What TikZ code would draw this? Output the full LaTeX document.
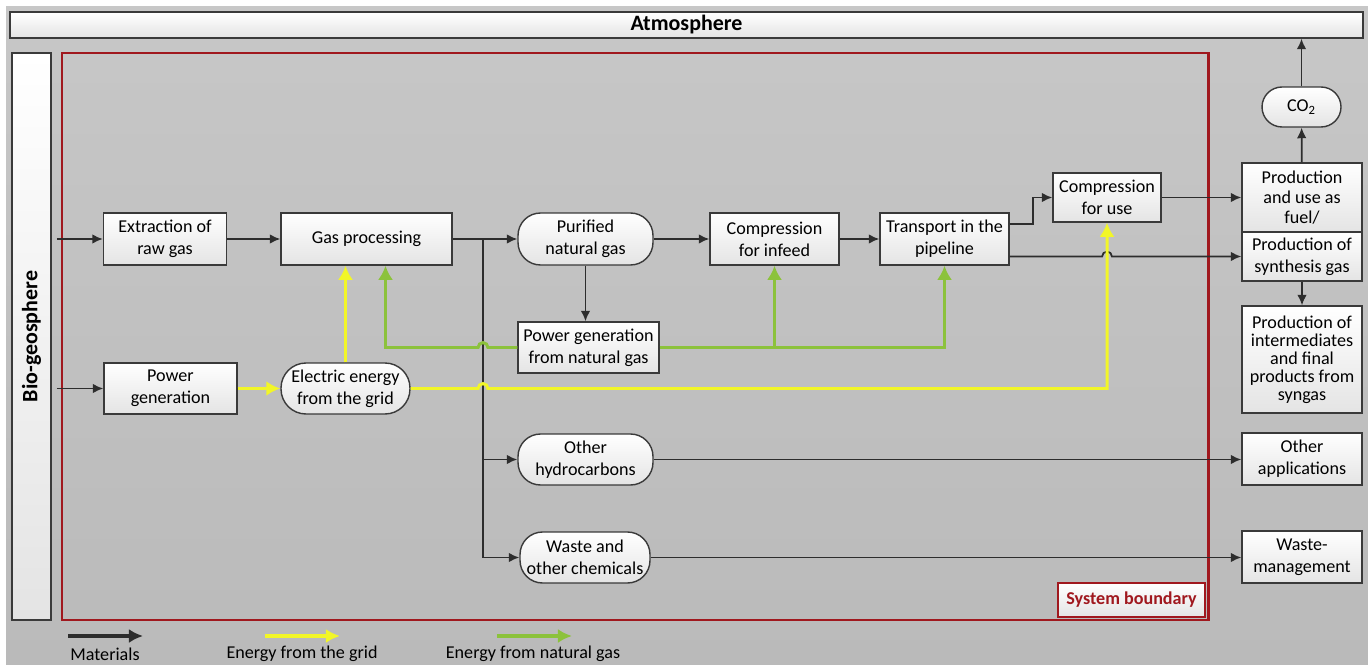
\documentclass[tikz,border=0pt]{standalone}
\usepackage{fontspec}
\setmainfont{Carlito}
\usetikzlibrary{positioning, arrows.meta, calc}

\definecolor{bgtop}{RGB}{199,199,199}
\definecolor{bgbot}{RGB}{186,186,186}
\definecolor{boxline}{RGB}{58,58,58}
\definecolor{boxshade}{RGB}{228,228,228}
\definecolor{matline}{RGB}{45,45,45}
\definecolor{gridyellow}{RGB}{242,246,40}
\definecolor{gasgreen}{RGB}{140,194,60}
\definecolor{boundred}{RGB}{160,24,30}

\begin{document}
\begin{tikzpicture}[
 x=0.02cm, y=0.02cm,
 font=\fontsize{10.3}{12.4}\selectfont,
 box/.style={draw=boxline, line width=0.8pt, rectangle, top color=white, bottom color=boxshade, align=center, inner sep=1pt, minimum height=1.04cm},
 stock/.style={box, rounded corners=0.45cm},
 arrow/.style={-{Latex[length=6pt,width=5.5pt]}, line width=1pt, draw=matline},
 gridarrow/.style={-{Latex[length=8pt,width=8.5pt]}, line width=1.7pt, draw=gridyellow},
 gasarrow/.style={-{Latex[length=8pt,width=8.5pt]}, line width=1.7pt, draw=gasgreen},
 legendarrow/.style={-{Latex[length=8pt,width=8pt]}, line width=2.3pt},
 hop/.style={radius=2.8pt}
 ]

  \useasboundingbox (0,0) rectangle (1368,-665);
  \fill[top color=bgtop, bottom color=bgbot] (6,-7) rectangle (1368,-665);

  % Atmosphere and bio-geosphere
  \node[box, minimum width=27.06cm, minimum height=0.52cm, font=\bfseries\fontsize{12.5}{15}\selectfont] (atmo) at (686.5,-25) {Atmosphere};
  \node[box, rotate=90, minimum width=11.34cm, minimum height=0.78cm, font=\bfseries\fontsize{12.5}{15}\selectfont] (bio) at (31.5,-336.5) {Bio-geosphere};

  % System boundary
  \draw[boundred, line width=1.7pt] (62,-53) rectangle (1208,-620);
  \node[box, draw=boundred, text=boundred, minimum width=2.94cm, minimum height=0.68cm, font=\bfseries\fontsize{10.3}{12.4}\selectfont] (sblabel) at (1131.5,-600) {System boundary};

  % Main chain
  \node[box, minimum width=2.46cm] (extract) at (165,-239) {Extraction of\\raw gas};
  \node[box, minimum width=3.42cm] (gasproc) at (366.5,-239) {Gas processing};
  \node[stock, minimum width=2.7cm] (purified) at (585.5,-239) {Purified\\natural gas};
  \node[box, minimum width=2.58cm] (compin) at (774.5,-239) {Compression\\for infeed};
  \node[box, minimum width=2.58cm] (transport) at (944.5,-239) {Transport in the\\pipeline};
  \node[box, minimum width=2.16cm, minimum height=0.98cm] (compuse) at (1107,-197.5) {Compression\\for use};

  % Energy supply
  \node[box, minimum width=2.82cm, minimum height=1.02cm] (pgnat) at (588.5,-347.5) {Power generation\\from natural gas};
  \node[box, minimum width=2.66cm, minimum height=1.02cm] (powergen) at (170.5,-388.5) {Power\\generation};
  \node[stock, minimum width=2.58cm, minimum height=1.02cm, rounded corners=0.5cm] (elgrid) at (345.5,-388.5) {Electric energy\\from the grid};

  % By-products
  \node[stock, minimum width=2.7cm, minimum height=1.02cm] (otherhc) at (585.5,-459.5) {Other\\hydrocarbons};
  \node[stock, minimum width=2.6cm, minimum height=1.02cm] (waste) at (585,-557.5) {Waste and\\other chemicals};

  % Outside the boundary
  \node[stock, minimum width=1.58cm, minimum height=0.8cm, rounded corners=0.4cm] (co2) at (1301.5,-107) {CO\textsubscript{2}};
  \node[box, minimum width=2.4cm, minimum height=1.38cm, font=\fontsize{10.3}{11.2}\selectfont] (fuel) at (1302,-197.5) {Production\\and use as\\fuel/};
  \node[box, minimum width=2.4cm, minimum height=0.98cm, below=-0.8pt of fuel] (syngas) {Production of\\synthesis gas};
  \node[box, minimum width=2.4cm, minimum height=2.14cm, font=\fontsize{10.3}{10.2}\selectfont] (interm) at (1302,-359.5) {Production of\\intermediates\\and final\\products from\\syngas};
  \node[box, minimum width=2.4cm] (otherapp) at (1302,-459) {Other\\applications};
  \node[box, minimum width=2.4cm] (wastemgmt) at (1302,-557) {Waste-\\management};

  \coordinate (trunk) at (483,-239);

  % Material flows
  \draw[arrow] ([xshift=3pt]bio.south |- extract.west) -- (extract.west);
  \draw[arrow] ([xshift=3pt]bio.south |- powergen.west) -- (powergen.west);
  \draw[arrow] (extract) -- (gasproc);
  \draw[arrow] (gasproc) -- (purified);
  \draw[arrow] (trunk) |- (otherhc.west);
  \draw[arrow] (trunk) |- (waste.west);
  \draw[arrow] (purified) -- (compin);
  \draw[arrow] (compin) -- (transport);
  \draw[arrow] (purified.south) -- (purified.south |- pgnat.north);
  \draw[arrow] ([yshift=0.3cm]transport.east) -- ++(23,0) |- (compuse.west);
  \draw[arrow] (transport.east |- syngas.west) -- ([xshift=-2.8pt]compuse.south |- syngas.west) arc[start angle=180, end angle=0, hop] -- (syngas.west);
  \draw[arrow] (compuse.east) -- (fuel.west |- compuse.east);
  \draw[arrow] (fuel) -- (co2);
  \draw[arrow] (co2) -- (co2.north |- atmo.south);
  \draw[arrow] (syngas) -- (interm);
  \draw[arrow] (otherhc) -- (otherapp.west |- otherhc);
  \draw[arrow] (waste) -- (wastemgmt.west |- waste);

  % Energy from the grid
  \draw[gridarrow] (powergen) -- (elgrid);
  \draw[gridarrow] (elgrid.north) -- (elgrid.north |- gasproc.south);
  \draw[gridarrow] (elgrid.east) -- ([xshift=-2.8pt]trunk |- elgrid.east) arc[start angle=180, end angle=0, hop] -- (compuse.south |- elgrid.east) -- (compuse.south);

  % Energy from natural gas
  \draw[gasarrow] (pgnat.west) -- ([xshift=2.8pt]trunk |- pgnat.west) arc[start angle=0, end angle=180, hop] -- ([xshift=0.38cm]gasproc.south |- pgnat.west) -- ([xshift=0.38cm]gasproc.south);
  \draw[gasarrow] (pgnat.east) -| (transport.south);
  \draw[gasarrow] (compin.south |- pgnat.east) -- (compin.south);

  % Legend
  \node (matlabel) at (105,-654) {Materials};
  \node (gridlabel) at (302,-654) {Energy from the grid};
  \node (gaslabel) at (533,-654) {Energy from natural gas};
  \coordinate (matstart) at (68,-636);
  \coordinate (gridstart) at (265,-636);
  \coordinate (gasstart) at (497,-636);
  \draw[legendarrow, matline] (matstart) -- ++(75,0);
  \draw[legendarrow, gridyellow] (gridstart) -- ++(75,0);
  \draw[legendarrow, gasgreen] (gasstart) -- ++(75,0);

\end{tikzpicture}
\end{document}
